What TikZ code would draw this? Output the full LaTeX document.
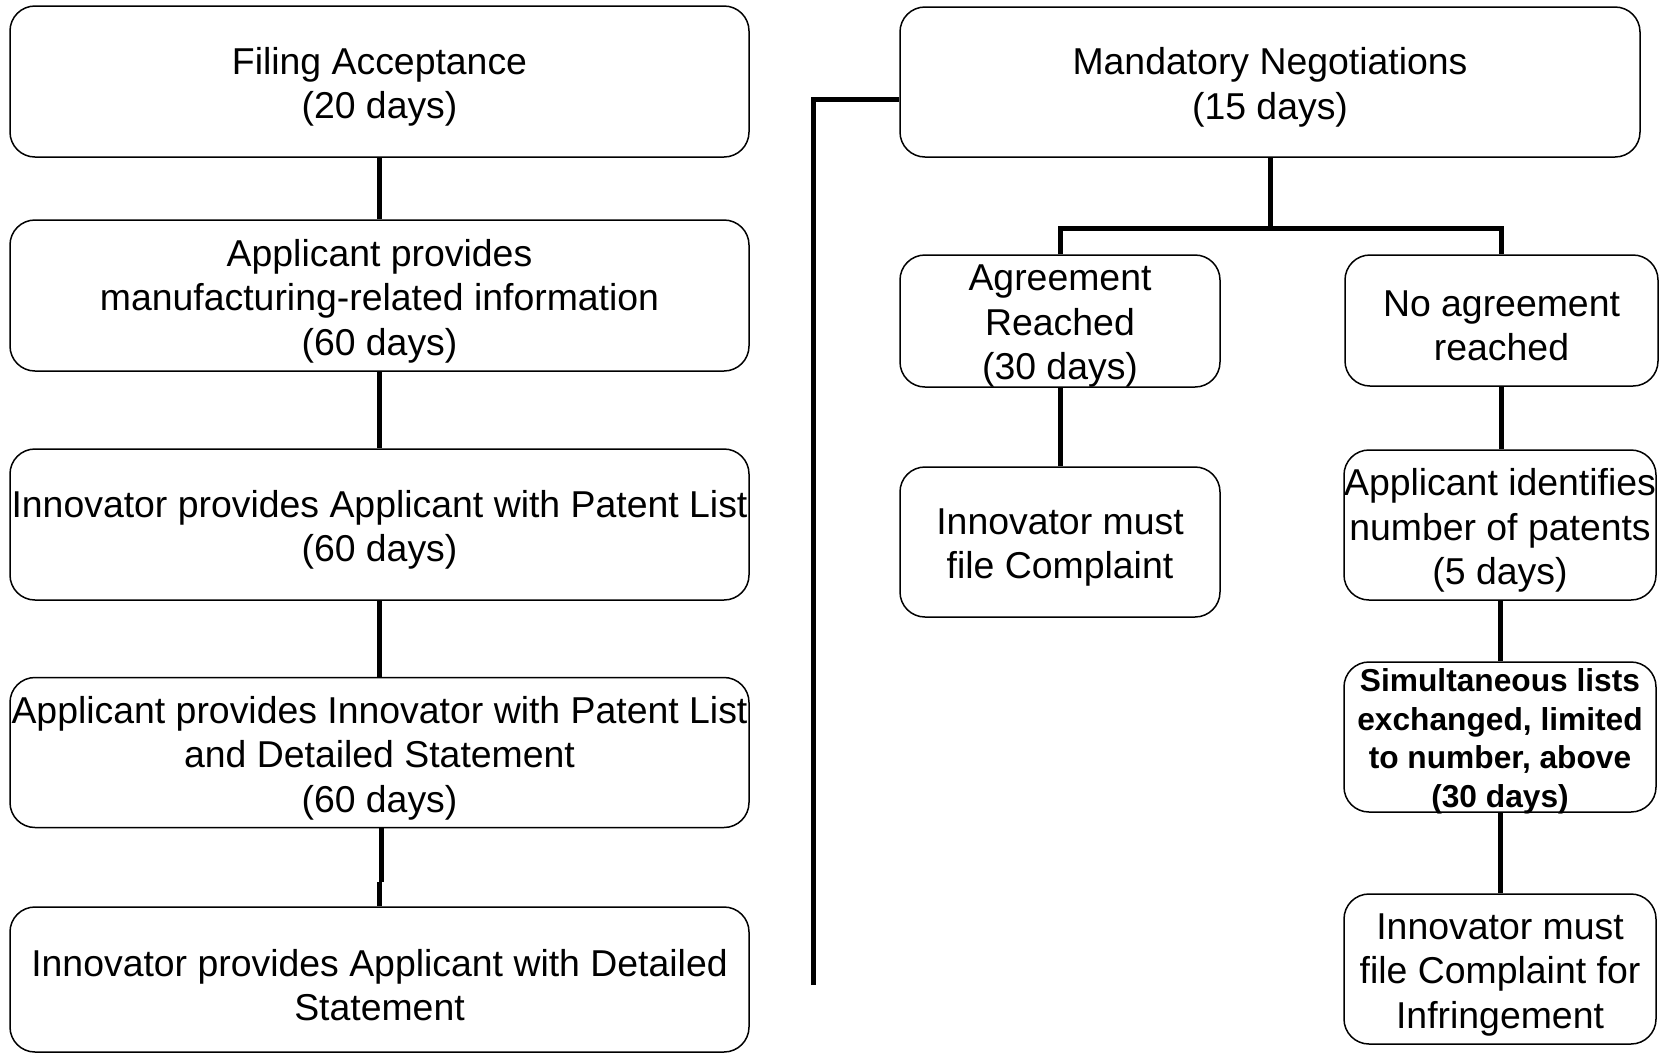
\documentclass[tikz,border=0pt]{standalone}
\usepackage{fontspec}
\setmainfont{Liberation Sans}
\begin{document}
\begin{tikzpicture}[x=1pt,y=-1pt,
  box/.style={draw,line width=1.5pt,rounded corners=25pt,inner sep=0pt},
  txt/.style={inner sep=0pt,align=center,font=\fontsize{37.4}{44.5}\selectfont},
  boldtxt/.style={txt,font=\fontsize{31.7}{38.5}\selectfont\bfseries},
  conn/.style={line width=5pt,line join=miter}]
\useasboundingbox (0,0) rectangle (1662,1053);
% left column
\node[box,minimum width=739pt,minimum height=151pt] (b1) at (379.5,81.5) {};
\node[box,minimum width=739pt,minimum height=151pt] (b2) at (379.5,295.5) {};
\node[box,minimum width=739pt,minimum height=151pt] (b3) at (379.5,524.5) {};
\node[box,minimum width=739pt,minimum height=150pt] (b4) at (379.5,752.5) {};
\node[box,minimum width=739pt,minimum height=145pt] (b5) at (379.5,979.5) {};
\node[txt] (b1t) at ([yshift=-5.5pt]b1.center) {Filing Acceptance\\(20 days)};
\node[txt] (b2t) at ([yshift=-5.5pt]b2.center) {Applicant provides\\manufacturing-related information\\(60 days)};
\node[txt] (b3t) at ([yshift=-5.5pt]b3.center) {Innovator provides Applicant with Patent List\\(60 days)};
\node[txt] (b4t) at ([yshift=-5.5pt]b4.center) {Applicant provides Innovator with Patent List\\and Detailed Statement\\(60 days)};
\node[txt] (b5t) at ([yshift=-5.5pt]b5.center) {Innovator provides Applicant with Detailed\\Statement};
% right part
\node[box,minimum width=740pt,minimum height=150pt] (mn) at (1270,82) {};
\node[box,minimum width=320pt,minimum height=132pt] (ag) at (1060,321) {};
\node[box,minimum width=313pt,minimum height=131pt] (na) at (1501.5,320.5) {};
\node[box,minimum width=320pt,minimum height=150pt] (ic) at (1060,542) {};
\node[box,minimum width=312pt,minimum height=150pt] (ai) at (1500,525) {};
\node[box,minimum width=312pt,minimum height=150pt] (sl) at (1500,737) {};
\node[box,minimum width=312pt,minimum height=150pt] (inf) at (1500,969) {};
\node[txt] (mnt) at ([yshift=-5.5pt]mn.center) {Mandatory Negotiations\\(15 days)};
\node[txt] (agt) at ([yshift=-5.5pt]ag.center) {Agreement\\Reached\\(30 days)};
\node[txt] (nat) at ([yshift=-5.5pt]na.center) {No agreement\\reached};
\node[txt] (ict) at ([yshift=-5.5pt]ic.center) {Innovator must\\file Complaint};
\node[txt] (ait) at ([yshift=-5.5pt]ai.center) {Applicant identifies\\number of patents\\(5 days)};
\node[boldtxt] (slt) at ([yshift=-4.5pt]sl.center) {Simultaneous lists\\exchanged, limited\\to number, above\\(30 days)};
\node[txt] (inft) at ([yshift=-5.5pt]inf.center) {Innovator must\\file Complaint for\\Infringement};
% connectors
\draw[conn] (b1.south) -- (b2.north);
\draw[conn] (b2.south) -- (b3.north);
\draw[conn] (b3.south) -- (b4.north);
\coordinate (jg) at (381,882);
\draw[conn] ([xshift=1.5pt]b4.south) -- ([xshift=1.5pt]b4.south |- jg);
\draw[conn] ([xshift=-0.5pt]b4.south |- jg) -- ([xshift=-0.5pt]b5.north);
\coordinate (lb) at (813,985);
\coordinate (lt) at (813,99);
\draw[conn] (lb) -- (lt) -- (lt -| mn.west);
\coordinate (br) at (1270,228);
\draw[conn] (mn.south) -- (br);
\draw[conn] (ag.north) |- (br) -| (na.north);
\draw[conn] (ag.south) -- (ic.north);
\draw[conn] (na.south) -- (na.south |- ai.north);
\draw[conn] (ai.south) -- (sl.north);
\draw[conn] (sl.south) -- (inf.north);
\end{tikzpicture}
\end{document}
